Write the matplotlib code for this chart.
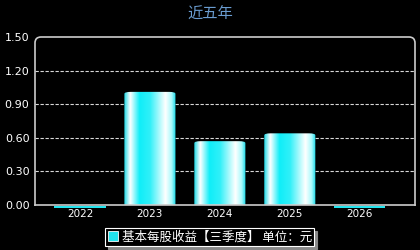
import matplotlib
matplotlib.use("Agg")
import matplotlib.pyplot as plt
import numpy as np
from matplotlib.patches import FancyBboxPatch, Rectangle
from matplotlib.colors import LinearSegmentedColormap
from matplotlib.transforms import IdentityTransform

plt.rcParams['font.family'] = ['Noto Sans CJK SC', 'DejaVu Sans']

# data
years = ['2022', '2023', '2024', '2025', '2026']
eps = [0.0, 1.01, 0.57, 0.64, 0.0]
yticks = [0.0, 0.3, 0.6, 0.9, 1.2, 1.5]
title = '近五年'
legend_label = '基本每股收益【三季度】 单位：元'

fig = plt.figure(figsize=(4.2, 2.5), dpi=100, facecolor='black')
ax = fig.add_axes([35 / 420, 45 / 250, 380 / 420, 168 / 250])
ax.set_facecolor('black')

# horizontal gradient for the bars
bar_cmap = LinearSegmentedColormap.from_list('barshine', [
    (0.0, '#1ad8e6'), (0.12, '#ffffff'), (0.3, '#10eef8'), (0.5, '#30f0f8'),
    (0.8, '#ffffff'), (0.92, '#a8fafc'), (1.0, '#10d8e8')])
grad = np.linspace(0, 1, 256).reshape(1, -1)

width = 0.73
for i, v in enumerate(eps):
    x0 = i - width / 2
    if v > 0:
        clip = FancyBboxPatch((x0, -0.05), width, v + 0.05,
                              boxstyle='round,pad=0,rounding_size=0.09',
                              mutation_aspect=0.19, transform=ax.transData,
                              facecolor='none', edgecolor='none')
        ax.add_patch(clip)
        im = ax.imshow(grad, cmap=bar_cmap, aspect='auto',
                       extent=[x0, x0 + width, -0.05, v], zorder=3)
        im.set_clip_path(clip)
    else:
        # zero values show as a thin strip just under the axis
        ax.add_patch(Rectangle((x0, -0.025), width, 0.018, facecolor='#22e4ee',
                               edgecolor='none', clip_on=False, zorder=3))

ax.set_xlim(-0.643, 4.79)
ax.set_ylim(0, 1.5)
ax.set_xticks(range(len(years)))
ax.set_xticklabels(years)
ax.set_yticks(yticks)
ax.set_yticklabels([f'{t:.2f}' for t in yticks])
ax.tick_params(colors='white', labelsize=8, length=0, pad=4)
for lbl in ax.get_xticklabels():
    lbl.set_fontfamily('DejaVu Sans')
    lbl.set_fontsize(7.5)
for lbl in ax.get_yticklabels():
    lbl.set_fontfamily('DejaVu Sans')
ax.tick_params(axis='x', pad=3)

for t in yticks[1:-1]:
    ax.axhline(t, color='#d8d8d8', lw=0.8, ls=(0, (3, 1.5)), zorder=1)

for s in ax.spines.values():
    s.set_visible(False)

# rounded frame around the plot area (square at the bottom)
fig.canvas.draw()
bb = ax.get_window_extent()
frame = FancyBboxPatch((bb.x0, bb.y0 - 10), bb.width, bb.height + 10,
                       boxstyle='round,pad=0,rounding_size=6',
                       transform=IdentityTransform(), facecolor='none',
                       edgecolor='#cccccc', lw=1.2)
frame.set_clip_box(matplotlib.transforms.Bbox([[0, bb.y0 - 0.6], [420, 250]]))
fig.add_artist(frame)
fig.add_artist(plt.Line2D([bb.x0, bb.x1], [bb.y0, bb.y0], transform=IdentityTransform(),
                          color='#cccccc', lw=1.2))

fig.text(0.5, 0.945, title, color='#6a9cd0', fontsize=11, ha='center', va='center')

# legend with shadow
leg = ax.legend(handles=[Rectangle((0, 0), 1, 1, facecolor='#22e4ee', edgecolor='white', lw=0.6)],
                labels=[legend_label], loc='center', bbox_to_anchor=(0.46, -0.19),
                frameon=True, fancybox=False, shadow={'color': '#888888', 'alpha': 1},
                fontsize=9, handlelength=0.8, handleheight=0.8, handletextpad=0.3,
                borderpad=0.2, labelcolor='white')
leg.get_frame().set_facecolor('black')
leg.get_frame().set_edgecolor('white')
leg.get_frame().set_linewidth(0.8)

fig.savefig('out.png', dpi=100, facecolor='black')
